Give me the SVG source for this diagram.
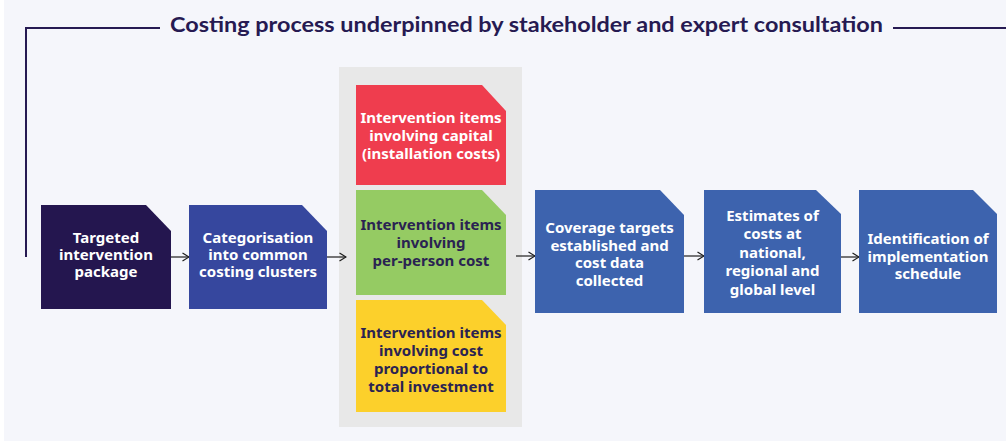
<svg xmlns="http://www.w3.org/2000/svg" width="1006" height="441" viewBox="0 0 1006 441">
  <defs>
    <marker id="arrow" viewBox="0 0 8 10" refX="7.5" refY="5" markerWidth="8" markerHeight="10" markerUnits="userSpaceOnUse" orient="auto">
      <path d="M1,1 L7.5,5 L1,9" fill="none" stroke="#1e1e1e" stroke-width="1.2"/>
    </marker>
    <style>
      .lbl { font-family: "Noto Sans", "Open Sans", sans-serif; font-weight: 700; font-size: 15px; text-anchor: middle; }
      .light { fill: #ffffff; }
      .dark { fill: #2a2352; }
      .title { font-family: Lato, "Noto Sans", sans-serif; font-weight: 700; font-size: 21px; fill: #261a52; }
      .frame { fill: none; stroke: #261a52; stroke-width: 2; }
      .conn { fill: none; stroke: #1e1e1e; stroke-width: 1.2; marker-end: url(#arrow); }
    </style>
  </defs>

  <!-- page background -->
  <rect x="0" y="0" width="1006" height="441" fill="#ffffff"/>
  <rect x="4" y="0" width="1002" height="441" fill="#f5f6fb"/>

  <!-- consultation bracket and heading -->
  <g id="heading">
    <path class="frame" d="M26,257 V28 H160"/>
    <path class="frame" d="M893,28 H1006"/>
    <text class="title" x="170" y="32" textLength="713" lengthAdjust="spacingAndGlyphs">Costing process underpinned by stakeholder and expert consultation</text>
  </g>

  <!-- grouping panel for costing clusters -->
  <rect id="cluster-panel" x="339" y="67" width="183" height="360" fill="#e8e8e8"/>

  <g id="connectors">
    <line class="conn" x1="171" y1="257" x2="189" y2="257"/>
    <line class="conn" x1="327" y1="257" x2="346" y2="257"/>
    <line class="conn" x1="516" y1="256" x2="535" y2="256"/>
    <line class="conn" x1="684" y1="256" x2="704" y2="256"/>
    <line class="conn" x1="841" y1="257" x2="859" y2="257"/>
  </g>

  <g id="targeted-package">
    <path d="M41,205 H146 L171,231 V309 H41 Z" fill="#24164f"/>
    <text class="lbl light" x="106"><tspan x="106" y="243">Targeted</tspan><tspan x="106" y="260">intervention</tspan><tspan x="106" y="277">package</tspan></text>
  </g>

  <g id="categorisation">
    <path d="M189,205 H302 L327,231 V309 H189 Z" fill="#36479e"/>
    <text class="lbl light" x="258"><tspan x="258" y="243">Categorisation</tspan><tspan x="258" y="260">into common</tspan><tspan x="258" y="277">costing clusters</tspan></text>
  </g>

  <g id="capital-items">
    <path d="M356,85 H482 L506,111 V185 H356 Z" fill="#ef3d4e"/>
    <text class="lbl light" x="431"><tspan x="431" y="123">Intervention items</tspan><tspan x="431" y="141">involving capital</tspan><tspan x="431" y="159">(installation costs)</tspan></text>
  </g>

  <g id="per-person-items">
    <path d="M356,190 H482 L506,215 V295 H356 Z" fill="#95cb63"/>
    <text class="lbl dark" x="431"><tspan x="431" y="230">Intervention items</tspan><tspan x="431" y="248">involving</tspan><tspan x="431" y="266">per-person cost</tspan></text>
  </g>

  <g id="proportional-items">
    <path d="M356,300 H482 L506,325 V412 H356 Z" fill="#fcd02b"/>
    <text class="lbl dark" x="431"><tspan x="431" y="338">Intervention items</tspan><tspan x="431" y="356">involving cost</tspan><tspan x="431" y="374">proportional to</tspan><tspan x="431" y="392">total investment</tspan></text>
  </g>

  <g id="coverage-targets">
    <path d="M535,190 H660 L684,215 V313 H535 Z" fill="#3d63ae"/>
    <text class="lbl light" x="609.5"><tspan x="609.5" y="233">Coverage targets</tspan><tspan x="609.5" y="251">established and</tspan><tspan x="609.5" y="268">cost data</tspan><tspan x="609.5" y="286">collected</tspan></text>
  </g>

  <g id="cost-estimates">
    <path d="M704,190 H816 L841,214 V313 H704 Z" fill="#3d63ae"/>
    <text class="lbl light" x="772.5"><tspan x="772.5" y="221">Estimates of</tspan><tspan x="772.5" y="239">costs at</tspan><tspan x="772.5" y="258">national,</tspan><tspan x="772.5" y="276">regional and</tspan><tspan x="772.5" y="295">global level</tspan></text>
  </g>

  <g id="implementation-schedule">
    <path d="M859,190 H973 L997,214 V313 H859 Z" fill="#3d63ae"/>
    <text class="lbl light" x="928"><tspan x="928" y="244">Identification of</tspan><tspan x="928" y="262">implementation</tspan><tspan x="928" y="279">schedule</tspan></text>
  </g>
</svg>
